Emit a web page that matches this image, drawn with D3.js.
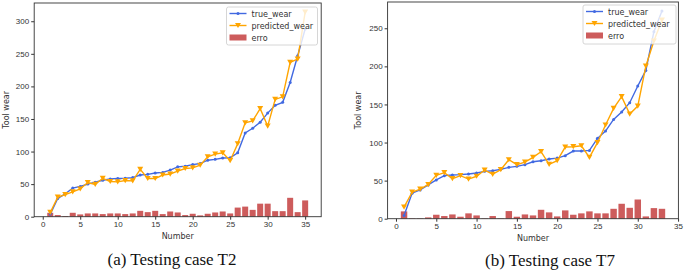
<!DOCTYPE html>
<meta charset="utf-8">
<head>
	<style>
		body { margin: 0; background: #fff; }
		svg { display: block; font-family: "DejaVu Sans", sans-serif; }
		.tick text { font-size: 8px; fill: #333; }
		.tick line, .domain { stroke: #333; }
		.caption { font-family: "Liberation Serif", "Times New Roman", serif; font-size: 17px; fill: #111; }
		.lab { font-size: 8px; fill: #333; }
	</style>
	<script src="https://cdn.jsdelivr.net/npm/d3@7"></script>
</head>
<body></body>
<script>

	// case T2
	var numT2 = [1,2,3,4,5,6,7,8,9,10,11,12,13,14,15,16,17,18,19,20,21,22,23,24,25,26,27,28,29,30,31,32,33,34,35];
	var trueT2 = [4,28,35,44,46.5,50,53,56,58,58.6,59,60,64,65,67,68,71.5,76.5,77.5,80,81.6,86.7,88,90,90.3,98,128.6,135.7,145,159,171,175.5,206,247,288];
	var predT2 = [6.5,30,34,38,42.5,52.5,49.5,59,54,53.5,55.5,55,72.7,58.6,58.6,64,65.5,70,74,75,79,92,96,98,86,112,144,147,166,139,180,184,237,242,314];
	var errT2 = [6,2.5,1,6,3.5,5,5,4,5,5,4,5,9,7,9,4,8,6.5,2.5,4.5,2,4.5,6.5,8,5,14,15.5,10.5,20,20,8.5,8.5,29,7,25];

	// case T7
	var numT7 = [1,2,3,4,5,6,7,8,9,10,11,12,13,14,15,16,17,18,19,20,21,22,23,24,25,26,27,28,29,30,31,32,33];
	var trueT7 = [4.3,33.5,37.8,44.3,50.9,56.5,57.4,57.8,58.7,60,62.2,63,64.8,67.4,68.7,70.9,74.8,76.1,78.3,79.6,82.7,88.8,88.8,89.7,105.5,115,130.4,140,152.3,174.2,194.7,245.5,272.6];
	var predT7 = [15.2,34.8,38.7,44.8,57,60.4,52.6,56.5,52,55.7,63.9,58.3,64.3,77.4,70.9,74.3,80.5,88,71.3,76.1,94.1,94.5,95.8,80.5,99.8,123,144.9,160.2,137.4,147.9,200.4,233.3,260.8];
	var errT7 = [9.6,0.5,0.5,1.7,5.2,3.5,5.6,2.6,7,4.3,0.5,3.5,0.5,10,2.6,5.6,4.3,11.7,8.3,3,10.9,5.2,7,9.6,7,7,13,19.6,14.3,25.2,3,13.9,13];

	var xTicks = [0,5,10,15,20,25,30,35];
	var yTicksT2 = [0,50,100,150,200,250,300];
	var yTicksT7 = [0,50,100,150,200,250];
	var legendNames = ["true_wear", "predicted_wear", "erro"];

	var blue = "#4169e1", orange = "#ffa500", red = "#cd5c5c";

	var svg = d3.select("body").append("svg")
		.attr("width", 685)
		.attr("height", 270);

	panel({
		num: numT2, tru: trueT2, pred: predT2, err: errT2,
		xDom: [-1.14, 37.14], xRange: [34.2, 321.2],
		yDom: [0, 328], yRange: [216.7, 3],
		yTicks: yTicksT2, ylabX: 5.5, caption: "(a) Testing case T2", capX: 172, capY: 264.5,
		legend: [226.5, 7, 91, 38]
	});

	panel({
		num: numT7, tru: trueT7, pred: predT7, err: errT7,
		xDom: [-1.04, 35.04], xRange: [387.6, 678.4],
		yDom: [0, 284.5], yRange: [218.7, 2],
		yTicks: yTicksT7, ylabX: 358, caption: "(b) Testing case T7", capX: 550, capY: 265.5,
		legend: [583, 5, 93, 39]
	});

	function panel(p) {
		var x = d3.scaleLinear().domain(p.xDom).range(p.xRange),
				y = d3.scaleLinear().domain(p.yDom).range(p.yRange);
		var g = svg.append("g");

		// bars first, lines above them
		g.selectAll("rect.bar")
			.data(p.err)
		  .enter().append("rect")
			.attr("class", "bar")
			.attr("x", function(d, i) { return x(p.num[i] - 0.4); })
			.attr("width", function(d, i) { return x(p.num[i] + 0.4) - x(p.num[i] - 0.4); })
			.attr("y", function(d) { return y(d); })
			.attr("height", function(d) { return y(0) - y(d); })
			.attr("fill", red);

		var line = d3.line()
			.x(function(d, i) { return x(p.num[i]); })
			.y(function(d) { return y(d); });

		g.append("path").datum(p.tru)
			.attr("d", line).attr("fill", "none")
			.attr("stroke", blue).attr("stroke-width", 1.4);
		g.selectAll("circle.tw")
			.data(p.tru)
		  .enter().append("circle")
			.attr("class", "tw")
			.attr("cx", function(d, i) { return x(p.num[i]); })
			.attr("cy", function(d) { return y(d); })
			.attr("r", 1.5)
			.attr("fill", blue);

		g.append("path").datum(p.pred)
			.attr("d", line).attr("fill", "none")
			.attr("stroke", orange).attr("stroke-width", 1.4);
		g.selectAll("path.pw")
			.data(p.pred)
		  .enter().append("path")
			.attr("class", "pw")
			.attr("d", tri)
			.attr("transform", function(d, i) { return "translate(" + x(p.num[i]) + "," + y(d) + ")"; })
			.attr("fill", orange);

		// frame
		g.append("rect")
			.attr("x", p.xRange[0]).attr("y", p.yRange[1])
			.attr("width", p.xRange[1] - p.xRange[0])
			.attr("height", p.yRange[0] - p.yRange[1])
			.attr("fill", "none").attr("stroke", "#333").attr("stroke-width", 0.9);

		g.append("g")
			.attr("transform", "translate(0," + p.yRange[0] + ")")
			.call(d3.axisBottom(x).tickValues(xTicks).tickSize(3).tickPadding(2))
			.call(function(a) { a.select(".domain").remove(); });

		g.append("g")
			.attr("transform", "translate(" + p.xRange[0] + ",0)")
			.call(d3.axisLeft(y).tickValues(p.yTicks).tickSize(3).tickPadding(2))
			.call(function(a) { a.select(".domain").remove(); });

		var cx = (p.xRange[0] + p.xRange[1]) / 2,
				cy = (p.yRange[0] + p.yRange[1]) / 2;

		g.append("text").attr("class", "lab")
			.attr("x", cx).attr("y", p.yRange[0] + 22.5)
			.attr("text-anchor", "middle")
			.text("Number");

		g.append("text").attr("class", "lab")
			.attr("transform", "translate(" + (p.ylabX + 3) + "," + cy + ")rotate(-90)")
			.attr("text-anchor", "middle")
			.text("Tool wear");

		svg.append("text").attr("class", "caption")
			.attr("x", p.capX).attr("y", p.capY)
			.attr("text-anchor", "middle")
			.text(p.caption);

		// legend
		var lb = p.legend;
		var lg = g.append("g").attr("transform", "translate(" + lb[0] + "," + lb[1] + ")");
		lg.append("rect")
			.attr("width", lb[2]).attr("height", lb[3]).attr("rx", 2)
			.attr("fill", "#fff").attr("fill-opacity", 0.8)
			.attr("stroke", "#ccc").attr("stroke-width", 0.8);

		var items = lg.selectAll("g.item")
			.data(legendNames)
		  .enter().append("g")
			.attr("class", "item")
			.attr("transform", function(d, i) { return "translate(3," + (6.5 + i * 12) + ")"; });

		items.each(function(d, i) {
			var it = d3.select(this);
			if (i == 2) {
				it.append("rect").attr("x", 0).attr("y", -3).attr("width", 17).attr("height", 6).attr("fill", red);
			} else {
				var c = i == 0 ? blue : orange;
				it.append("line").attr("x1", 0).attr("x2", 17)
					.attr("stroke", c).attr("stroke-width", 1.4);
				if (i == 0) it.append("circle").attr("cx", 8.5).attr("r", 1.5).attr("fill", c);
				else it.append("path").attr("d", tri).attr("transform", "translate(8.5,0)").attr("fill", c);
			}
			it.append("text").attr("class", "lab")
				.attr("x", 22).attr("y", 3)
				.text(d);
		});
	}

	function tri() {
		return "M-3,-2.6L3,-2.6L0,2.6Z";
	}

</script>
